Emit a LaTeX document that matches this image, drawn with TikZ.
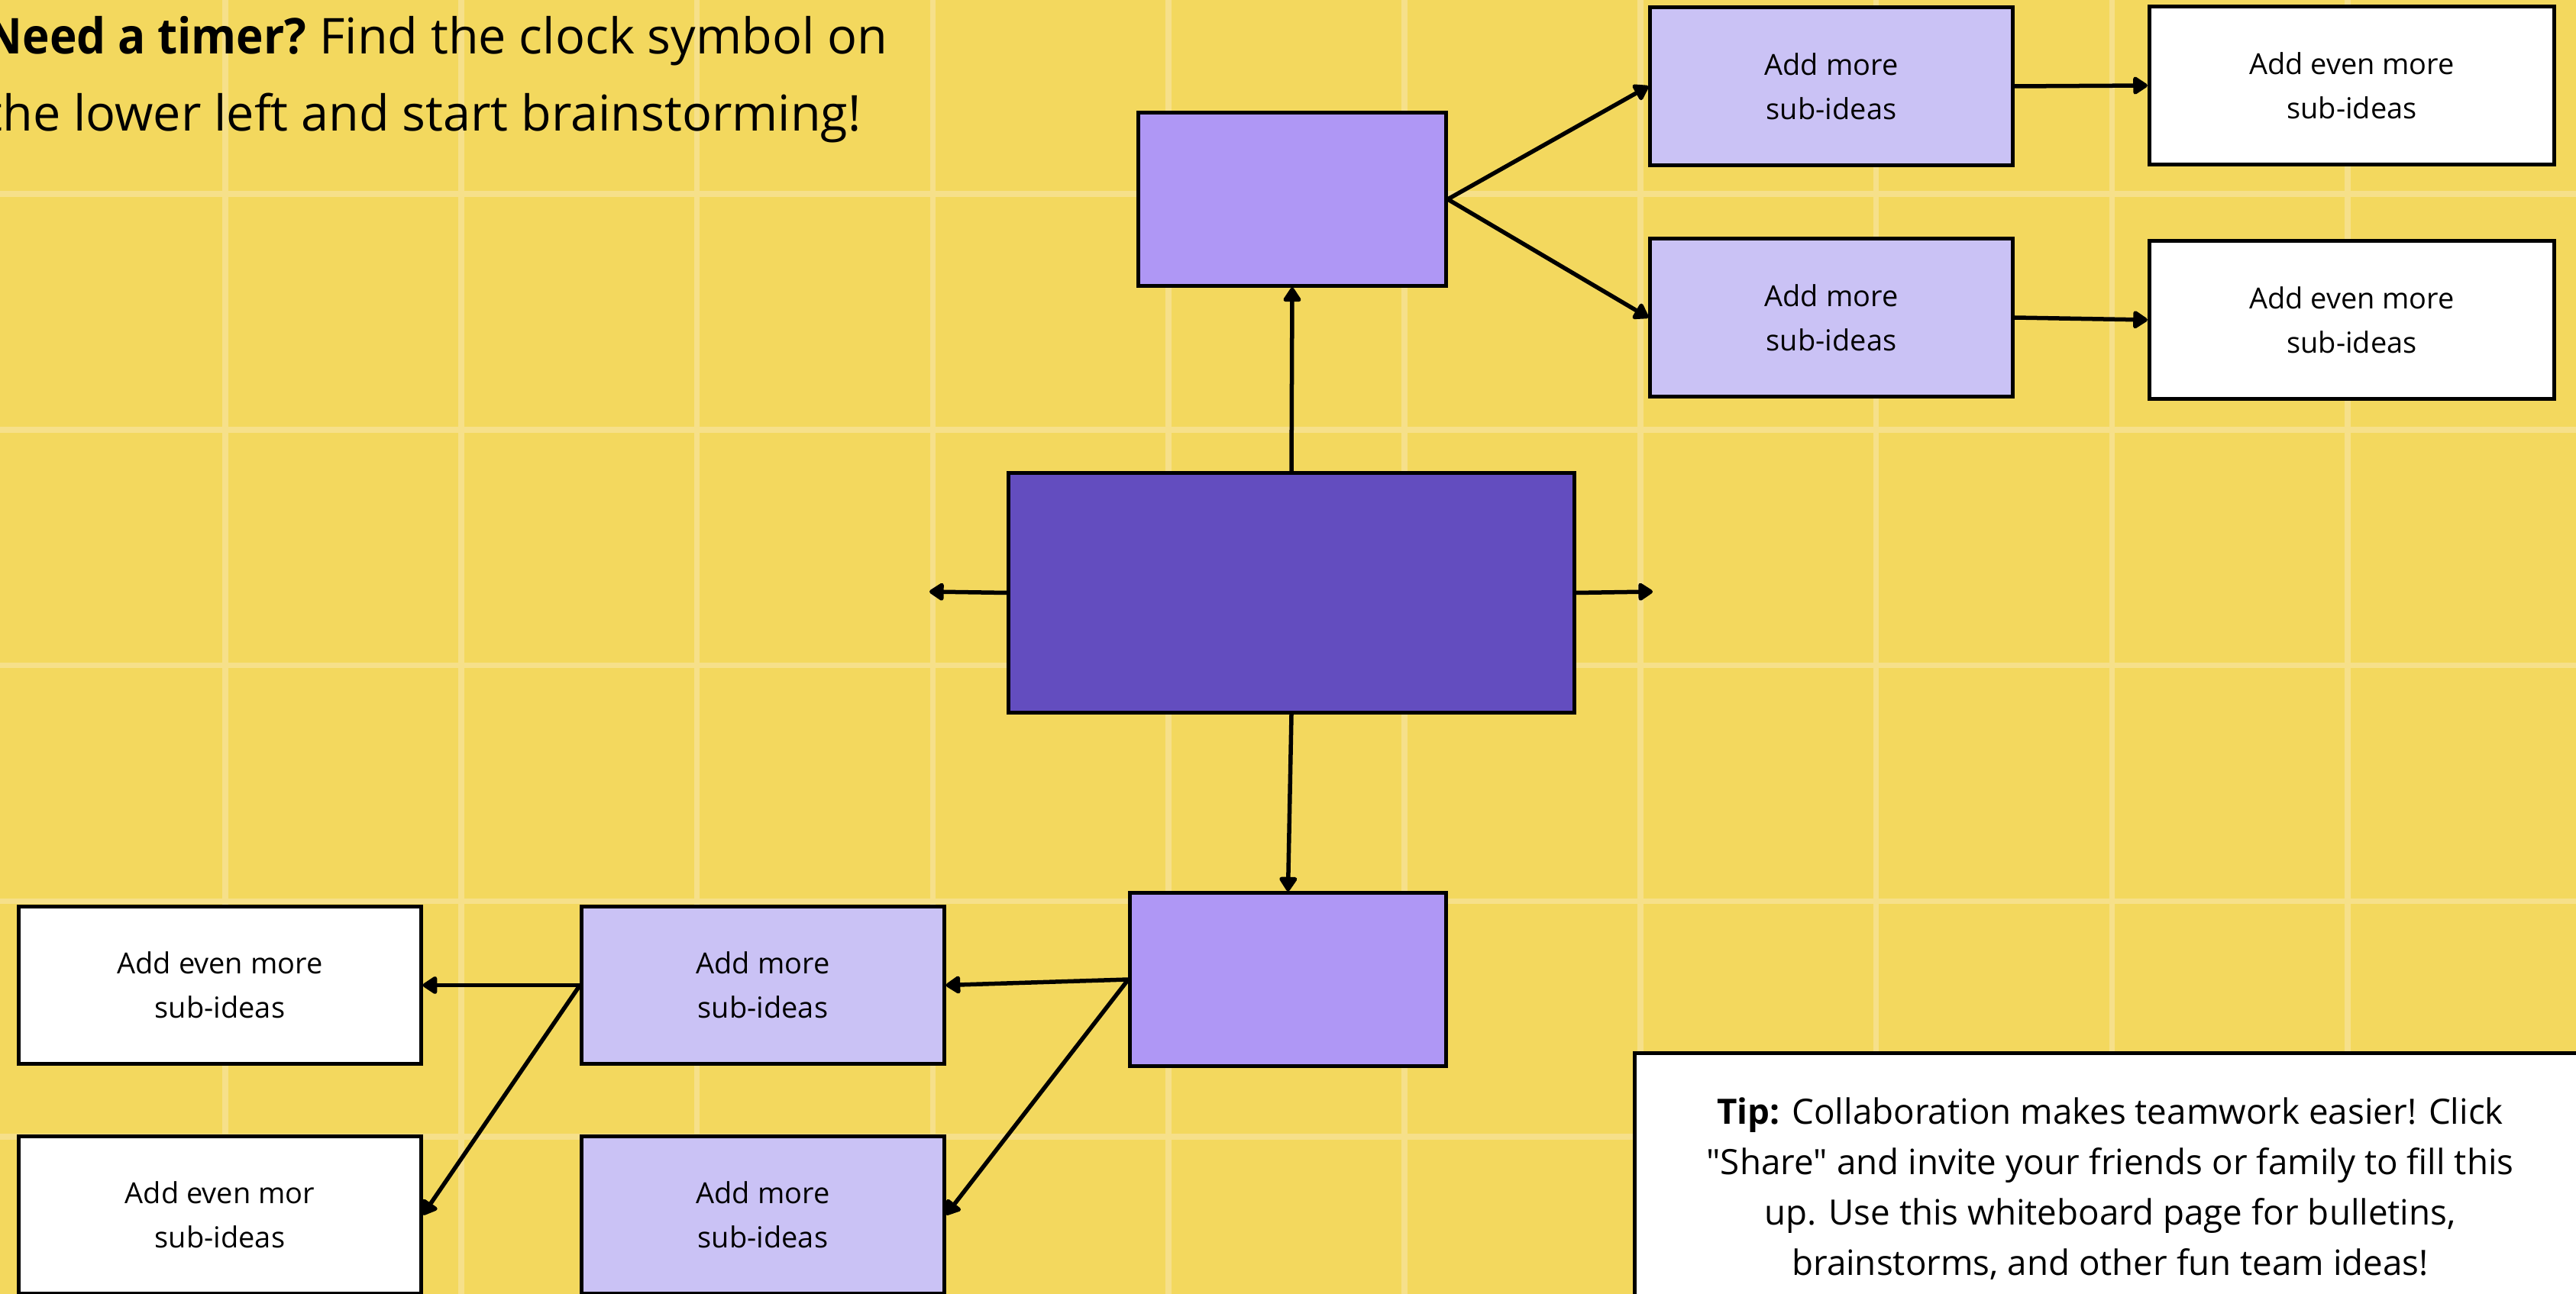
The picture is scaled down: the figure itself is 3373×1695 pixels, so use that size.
\documentclass[tikz,border=0pt]{standalone}
\usepackage{fontspec}
\setmainfont{Open Sans}
\newfontface\plainq{Open Sans}[Ligatures=TeXOff]
\newcommand{\straightquote}{{\plainq\symbol{34}}}
\usetikzlibrary{arrows.meta}
\definecolor{bgyellow}{HTML}{F3D85E}
\definecolor{gridyellow}{HTML}{F6E08A}
\definecolor{darkpurple}{HTML}{634DBF}
\definecolor{midpurple}{HTML}{AF97F5}
\definecolor{lightpurple}{HTML}{CAC2F5}
\tikzset{
  box/.style={draw=black, line width=0.05cm, inner sep=0pt, align=center,
    font=\fontsize{10.8}{16.5}\selectfont},
  mainbox/.style={box, fill=darkpurple, minimum width=7.4cm, minimum height=3.13cm},
  ideabox/.style={box, fill=midpurple},
  subbox/.style={box, fill=lightpurple, minimum width=4.74cm, minimum height=2.06cm},
  evenbox/.style={box, fill=white, minimum width=5.3cm, minimum height=2.06cm},
  conn/.style={draw=black, line width=0.055cm, -{Triangle[length=0.21cm,width=0.26cm,round]}},
  gridline/.style={draw=gridyellow, line width=0.075cm}
}
\begin{document}
\begin{tikzpicture}[x=0.01cm,y=-0.01cm]
\useasboundingbox (0,0) rectangle (3373,1695);
\clip (0,0) rectangle (3373,1695);
\fill[bgyellow] (0,0) rectangle (3373,1695);
% grid
\foreach \k in {0,...,9} {
  \draw[gridline] ({295+308.8*\k},0) -- ({295+308.8*\k},1695);
}
\foreach \k in {0,...,4} {
  \draw[gridline] (0,{254+308.8*\k}) -- (3373,{254+308.8*\k});
}
% top-left text
\node[anchor=west, align=left, inner sep=0pt, font=\fontsize{18.4}{28.7}\selectfont] (hint) at (-20,104)
  {\scalebox{0.93}[1]{\bfseries Need a timer?} Find the clock symbol on\\the lower left and start brainstorming!};
% main
\node[mainbox] (c) at (1691,776.5) {};
\node[ideabox, minimum width=4.02cm, minimum height=2.26cm] (top) at (1692,261) {};
\node[ideabox, minimum width=4.13cm, minimum height=2.26cm] (bot) at (1686.5,1283) {};
% top-right
\node[subbox] (a) at (2398,113) {Add more\\sub-ideas};
\node[subbox] (b) at (2398,416) {Add more\\sub-ideas};
\node[evenbox] (a2) at (3079.5,112) {Add even more\\sub-ideas};
\node[evenbox] (b2) at (3079.5,419) {Add even more\\sub-ideas};
% bottom-left
\node[subbox] (l1) at (999,1290.5) {Add more\\sub-ideas};
\node[subbox] (l2) at (999,1591.5) {Add more\\sub-ideas};
\node[evenbox, minimum width=5.26cm] (e1) at (288,1290.5) {Add even more\\sub-ideas};
\node[evenbox, minimum width=5.26cm] (e2) at (288,1591.5) {Add even mor\\sub-ideas};
% tip
\node[draw=black, fill=white, line width=0.05cm, minimum width=12.5cm, minimum height=3.9cm, anchor=north west, inner sep=0pt] (tipbox) at (2138,1377) {};
\node[align=center, inner sep=0pt, font=\fontsize{13}{18.8}\selectfont] (tip) at (2763,1557)
  {\textbf{Tip:} Collaboration makes teamwork easier! Click\\\straightquote Share\straightquote{} and invite your friends or family to fill this\\up. Use this whiteboard page for bulletins,\\brainstorms, and other fun team ideas!};
% free ends
\coordinate (lend) at (1217,775);
\coordinate (rend) at (2164,775);
% connectors
\draw[conn] (c.north) -- (top.south);
\draw[conn] (c.south) -- (bot.north);
\draw[conn] (c.west) -- (lend);
\draw[conn] (c.east) -- (rend);
\draw[conn] (top.east) -- (a.west);
\draw[conn] (top.east) -- (b.west);
\draw[conn] (a.east) -- (a2.west);
\draw[conn] (b.east) -- (b2.west);
\draw[conn] (bot.west) -- (l1.east);
\draw[conn] (bot.west) -- (l2.east);
\draw[conn] (l1.west) -- (e1.east);
\draw[conn] (l1.west) -- (e2.east);
\end{tikzpicture}
\end{document}
